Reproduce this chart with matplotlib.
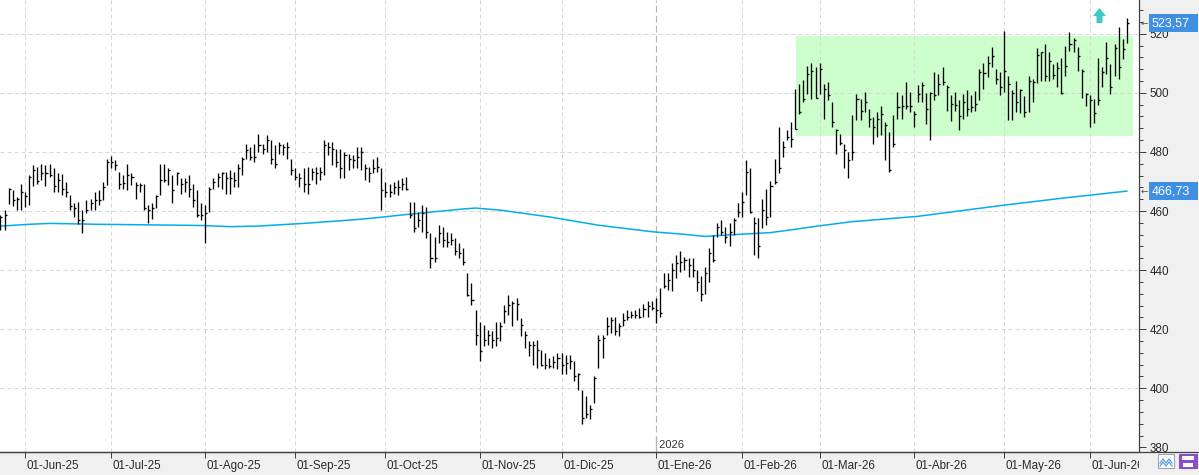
import matplotlib
matplotlib.use('Agg')
import matplotlib.pyplot as plt
import matplotlib.transforms as mtransforms
from matplotlib.patches import Rectangle
from matplotlib.path import Path
from matplotlib.lines import Line2D
from matplotlib.ticker import MultipleLocator

plt.rcParams['font.family'] = ['Liberation Sans', 'DejaVu Sans']

# ---------------- data ----------------
high = [
458.8, 460.3, 467.8, 467.0, 464.8, 469.3, 466.5, 472.1, 475.5, 474.9,
475.8, 475.5, 475.8, 474.4, 472.7, 472.4, 469.9, 465.4, 462.6, 463.1,
460.3, 463.7, 464.2, 466.5, 467.0, 469.9, 477.7, 478.5, 477.2, 473.2,
472.1, 476.0, 472.7, 469.9, 469.5, 469.3, 462.0, 462.6, 465.4, 476.0,
476.0, 474.4, 472.1, 473.2, 471.0, 471.3, 472.1, 469.3, 467.0, 462.6,
462.0, 468.2, 471.0, 472.7, 473.2, 473.2, 473.8, 473.2, 476.0, 478.3,
482.8, 481.7, 482.8, 486.2, 482.8, 485.6, 483.9, 482.2, 483.4, 482.8,
483.4, 477.7, 474.4, 472.7, 474.4, 474.9, 474.4, 474.9, 474.9, 483.9,
483.4, 483.4, 481.1, 481.1, 480.0, 479.4, 478.9, 481.7, 481.7, 476.0,
474.9, 477.7, 478.3, 474.4, 469.9, 469.3, 469.9, 470.4, 471.0, 471.6,
463.1, 463.1, 459.8, 462.0, 461.4, 452.4, 451.3, 455.2, 454.7, 453.0,
452.4, 450.8, 449.1, 447.4, 438.9, 435.6, 426.6, 422.6, 421.5, 419.8,
419.5, 422.6, 422.6, 428.3, 431.6, 429.4, 430.5, 423.8, 419.3, 415.9,
415.9, 416.5, 412.8, 412.0, 410.3, 411.0, 412.0, 412.0, 411.4, 411.4,
409.2, 405.2, 399.6, 397.4, 394.5, 404.1, 418.2, 418.2, 424.3, 424.3,
424.3, 422.1, 425.5, 426.6, 426.0, 426.6, 427.1, 428.5, 429.4, 429.4,
430.5, 433.9, 438.9, 438.9, 442.3, 445.1, 446.3, 444.6, 444.0, 444.2,
440.0, 438.0, 441.0, 447.4, 451.9, 455.8, 456.9, 454.7, 455.8, 457.5,
462.6, 466.5, 477.2, 474.4, 458.1, 457.5, 464.0, 467.6, 470.0, 477.5,
488.4, 483.6, 487.3, 490.1, 501.3, 503.0, 504.2, 509.2, 510.1, 508.6,
510.1, 503.0, 503.6, 496.8, 487.9, 486.2, 482.8, 480.0, 492.4, 499.7,
498.0, 500.2, 494.6, 491.8, 493.5, 495.7, 490.1, 486.7, 492.4, 500.2,
499.1, 503.6, 500.2, 494.0, 502.5, 503.6, 500.0, 500.4, 506.9, 506.4,
508.6, 502.5, 499.3, 500.4, 497.7, 499.5, 501.1, 499.1, 500.7, 508.1,
510.1, 512.6, 515.4, 508.1, 507.2, 521.0, 505.8, 500.8, 504.1, 501.3,
498.9, 505.8, 504.5, 515.1, 513.9, 516.5, 513.9, 509.8, 510.5, 511.7,
515.9, 520.7, 518.4, 515.4, 507.9, 500.0, 499.3, 498.0, 511.7, 508.6,
517.3, 509.8, 516.5, 522.1, 518.2, 525.2]

low = [
453.5, 453.5, 462.5, 461.7, 460.5, 460.5, 461.4, 462.0, 468.4, 469.0,
470.4, 468.4, 471.5, 466.5, 466.5, 465.4, 464.8, 460.3, 458.0, 455.6,
452.6, 459.2, 460.3, 460.5, 462.0, 463.7, 468.7, 474.4, 473.8, 467.6,
467.6, 467.0, 468.7, 464.2, 466.5, 460.3, 455.8, 457.2, 460.9, 465.4,
469.9, 468.7, 462.6, 468.7, 465.9, 466.5, 464.8, 461.4, 458.0, 457.0,
449.1, 459.7, 467.3, 468.2, 467.6, 465.9, 465.9, 468.2, 468.2, 472.1,
477.7, 477.2, 476.6, 480.0, 479.4, 480.0, 476.0, 474.4, 479.4, 478.9,
477.7, 472.1, 470.4, 468.2, 466.5, 465.9, 470.4, 469.3, 470.4, 472.1,
478.9, 475.5, 474.9, 471.0, 471.0, 473.8, 474.4, 474.4, 473.8, 470.4,
469.9, 472.7, 473.2, 460.3, 464.8, 464.8, 465.9, 465.4, 467.1, 467.1,
457.5, 453.0, 454.7, 453.0, 450.8, 440.6, 442.9, 449.1, 447.9, 447.9,
448.5, 445.1, 444.0, 441.8, 431.1, 428.3, 414.8, 409.2, 414.2, 414.8,
413.7, 414.2, 415.9, 422.1, 424.9, 421.0, 423.2, 417.6, 413.7, 410.8,
408.0, 406.9, 407.5, 406.4, 406.9, 406.9, 406.4, 404.7, 404.7, 406.4,
402.4, 399.6, 387.8, 390.1, 389.5, 395.1, 406.9, 410.3, 418.2, 418.7,
418.2, 417.6, 421.0, 423.2, 423.8, 423.8, 423.8, 424.0, 424.3, 426.6,
422.1, 424.3, 433.9, 433.3, 432.8, 437.3, 439.5, 440.1, 437.8, 437.5,
433.0, 429.5, 432.0, 436.0, 442.9, 451.3, 451.9, 449.1, 448.0, 451.9,
458.1, 458.1, 465.4, 459.2, 445.1, 444.0, 454.1, 455.2, 458.0, 469.3,
472.7, 478.3, 483.9, 481.7, 487.9, 492.9, 496.8, 499.7, 498.0, 498.2,
499.7, 491.2, 497.4, 488.4, 479.4, 482.2, 474.4, 471.0, 477.2, 490.7,
490.7, 493.5, 488.4, 482.8, 485.0, 485.6, 477.2, 473.2, 481.7, 491.2,
491.2, 494.6, 493.5, 488.4, 496.8, 496.8, 489.5, 483.9, 497.4, 499.1,
502.5, 494.0, 490.3, 494.0, 487.3, 491.0, 492.3, 493.5, 494.0, 497.7,
501.3, 505.3, 508.6, 503.0, 499.3, 500.2, 490.7, 490.7, 493.5, 493.3,
491.8, 493.5, 496.8, 503.4, 504.1, 504.1, 504.1, 504.7, 502.0, 499.7,
505.6, 514.3, 513.7, 507.5, 498.2, 495.7, 488.4, 489.9, 495.9, 501.9,
506.4, 499.7, 505.8, 504.7, 511.5, 516.9]

close = [
458.0, 458.6, 467.6, 463.7, 463.9, 466.5, 465.0, 471.5, 473.8, 470.1,
472.7, 472.7, 472.1, 468.4, 470.4, 467.3, 466.5, 461.7, 460.9, 456.9,
456.9, 460.3, 462.8, 463.7, 463.7, 468.2, 476.6, 476.6, 475.5, 469.3,
469.5, 472.1, 471.5, 468.7, 468.7, 460.9, 460.3, 460.9, 465.0, 470.4,
470.4, 473.8, 467.0, 472.7, 469.3, 469.9, 467.6, 463.7, 458.6, 458.6,
459.2, 467.6, 469.9, 471.5, 472.7, 471.0, 471.0, 470.4, 474.4, 477.7,
480.5, 478.3, 478.3, 482.2, 481.1, 483.9, 477.7, 476.0, 482.2, 481.7,
481.7, 473.8, 471.6, 471.0, 469.3, 469.3, 473.2, 472.7, 473.2, 482.2,
481.7, 481.1, 476.6, 474.4, 478.9, 477.7, 477.2, 478.3, 480.0, 474.4,
472.7, 474.4, 474.9, 467.1, 466.5, 466.5, 468.2, 468.2, 469.3, 467.6,
458.6, 454.1, 456.9, 459.2, 453.0, 444.0, 444.0, 452.4, 450.2, 449.6,
450.2, 446.3, 445.7, 442.9, 431.6, 430.0, 418.2, 412.5, 416.5, 418.2,
416.5, 417.0, 421.0, 426.0, 428.3, 428.8, 428.5, 421.5, 418.2, 414.8,
414.8, 413.1, 408.0, 408.0, 407.5, 409.0, 410.3, 408.0, 408.6, 409.2,
404.1, 404.7, 390.1, 391.2, 392.9, 403.5, 416.5, 417.0, 421.0, 423.2,
419.3, 421.0, 423.2, 424.3, 424.9, 424.9, 424.3, 427.0, 427.7, 427.1,
426.6, 425.5, 434.5, 436.7, 440.1, 442.3, 442.9, 443.4, 441.8, 440.0,
436.0, 432.0, 439.0, 445.7, 443.5, 454.7, 453.0, 451.3, 453.0, 456.9,
459.8, 463.1, 473.2, 459.8, 455.8, 448.0, 460.3, 458.1, 468.5, 469.9,
474.4, 481.7, 485.0, 484.5, 487.9, 493.5, 497.9, 506.4, 507.5, 498.2,
508.1, 501.3, 499.1, 490.1, 487.3, 483.1, 480.5, 477.2, 480.0, 498.0,
494.0, 496.8, 491.2, 488.4, 491.0, 492.9, 489.0, 473.8, 482.8, 495.1,
495.7, 495.7, 495.7, 492.9, 499.7, 502.5, 494.6, 500.0, 499.1, 503.0,
503.6, 501.9, 496.1, 495.9, 492.0, 497.0, 494.6, 495.2, 496.1, 507.0,
506.7, 510.1, 512.6, 504.5, 501.9, 507.5, 503.0, 500.0, 496.8, 500.8,
493.5, 504.1, 503.6, 512.8, 513.7, 505.8, 510.6, 506.1, 508.5, 500.0,
509.0, 516.5, 518.0, 512.6, 507.5, 499.7, 497.4, 493.2, 497.7, 507.2,
511.7, 501.9, 515.1, 508.6, 514.8, 523.57]

# moving average read at sample bars
ma_idx = [0, 7, 12, 24, 37, 49, 56, 63, 69, 74, 80, 87, 93, 99, 105, 113, 116,
          122, 134, 146, 159, 167, 172, 179, 188, 194, 200, 208, 216, 224, 244, 259, 275]
ma_val = [454.9, 455.5, 455.8, 455.5, 455.3, 455.1, 454.7, 454.9, 455.4, 455.8,
          456.4, 457.1, 457.9, 458.8, 459.6, 460.7, 461.0, 460.3, 458.0, 455.2,
          453.0, 452.1, 451.4, 452.0, 452.7, 453.8, 455.0, 456.4, 457.3, 458.2,
          461.8, 464.3, 466.73]

month_labels = ['01-Jun-25', '01-Jul-25', '01-Ago-25', '01-Sep-25', '01-Oct-25',
                '01-Nov-25', '01-Dic-25', '01-Ene-26', '01-Feb-26', '01-Mar-26',
                '01-Abr-26', '01-May-26', '01-Jun-26']
month_bar = [6, 27, 50, 72, 94, 117, 137, 160, 181, 200, 223, 245, 266]
year_label = '2026'
year_bar = 160

y_major = [380, 400, 420, 440, 460, 480, 500, 520]
last_close = 523.57
last_ma = 466.73

# consolidation range box (bar index range, price range)
box_bars = (194.2, 276.4)
box_prices = (485.4, 519.1)
signal_bar, signal_price = 268.1, 526.2

# ---------------- figure ----------------
W, H = 1199, 475
fig = plt.figure(figsize=(W / 100, H / 100), dpi=100, facecolor='#f0f0f0')
ax_right_px = 1139
ax_bottom_px = 452.3
ax = fig.add_axes([0, (H - ax_bottom_px) / H, ax_right_px / W, ax_bottom_px / H])
ax.set_facecolor('white')

n = min(len(high), len(low), len(close))
xs = list(range(n))
ax.set_xlim(-0.1, 277.97)
ax.set_ylim(378.35, 531.4)

# grid
grid_kw = dict(color='#d6d6d6', lw=0.72, dashes=(4, 3), zorder=1)
for yv in y_major[1:]:
    ax.axhline(yv, **grid_kw)
for mb in month_bar:
    if mb != year_bar:
        ax.axvline(mb, **grid_kw)
ax.axvline(year_bar, color='#b4b4b4', lw=0.8, dashes=(6, 3), zorder=1)
ax.plot([year_bar, year_bar], [378.35, 384.0], color='#b4b4b4', lw=0.9, zorder=1,
        solid_capstyle='butt')
ax.text(year_bar, 380.9, ' ' + year_label, fontsize=8, color='#333333',
        ha='left', va='center', zorder=2)

# consolidation box
ax.add_patch(Rectangle((box_bars[0], box_prices[0]), box_bars[1] - box_bars[0],
                       box_prices[1] - box_prices[0], facecolor='#ccffcc',
                       edgecolor='none', zorder=0.5))

# moving average
ax.plot(ma_idx, ma_val, color='#00aeef', lw=1.1, zorder=2)

# bars
ax.vlines(xs, low[:n], high[:n], color='black', lw=0.95, zorder=3)
ax.hlines(close[:n], xs, [x + 0.5 for x in xs], color='black', lw=0.95, zorder=3)

# signal arrow
arrow = Path([(0, 1), (0.87, -0.07), (0.4, -0.07), (0.4, -1), (-0.4, -1),
              (-0.4, -0.07), (-0.87, -0.07), (0, 1)])
ax.plot([signal_bar], [signal_price], marker=arrow, markersize=10.8,
        color='#40c8c8', mec='none', clip_on=False, zorder=4)

# spines / axes
for s in ['left', 'top']:
    ax.spines[s].set_visible(False)
for s in ['right', 'bottom']:
    ax.spines[s].set_color('#404040')
    ax.spines[s].set_linewidth(0.9)

ax.yaxis.tick_right()
ax.set_yticks(y_major)
ax.set_yticklabels([str(v) for v in y_major])
ax.yaxis.set_minor_locator(MultipleLocator(4))
ax.tick_params(axis='y', which='major', length=5.0, width=0.72, color='#404040',
               labelsize=8.4, labelcolor='#2a2a2a', pad=2.8)
ax.tick_params(axis='y', which='minor', length=2.9, width=0.72, color='#404040')

ax.set_xticks(month_bar)
ax.set_xticklabels([''] * len(month_bar))
ax.tick_params(axis='x', which='major', length=4.3, width=0.72, color='#404040',
               direction='out')
xtrans = mtransforms.blended_transform_factory(ax.transData, ax.transAxes)
lab_trans = mtransforms.offset_copy(xtrans, fig=fig, x=1.5, y=-16.7, units='dots')
for mb, lab in zip(month_bar, month_labels):
    ax.text(mb, 0, lab, transform=lab_trans, ha='left', va='baseline',
            fontsize=8.4, color='#2a2a2a', clip_on=False)

# value tags on the right
ytrans = mtransforms.blended_transform_factory(ax.transAxes, ax.transData)
px_to_price = (531.4 - 378.35) / ax_bottom_px
for val in (last_close, last_ma):
    hgt = 18.5 * px_to_price
    ax.add_patch(Rectangle((1149 / ax_right_px, val - hgt / 2), 49 / ax_right_px, hgt,
                           transform=ytrans, facecolor='#3f8fe2', edgecolor='none',
                           clip_on=False, zorder=10))
    ax.text(1152 / ax_right_px, val, f'{val:.2f}'.replace('.', ','), transform=ytrans,
            ha='left', va='center', fontsize=9, color='white', clip_on=False, zorder=11)
    ax.text(1144 / ax_right_px, val, '\u2190', transform=ytrans, ha='center',
            va='center', fontsize=6.5, color='#555555', family='DejaVu Sans',
            clip_on=False, zorder=11)

# bottom-right corner panel with icons
fig.add_artist(Rectangle((ax_right_px / W, 0), (W - ax_right_px) / W,
                         (H - ax_bottom_px) / H, transform=fig.transFigure,
                         facecolor='#f0f0f0', edgecolor='none', zorder=5))
fig.add_artist(Line2D([0, 1], [(H - ax_bottom_px) / H] * 2, transform=fig.transFigure,
                      color='#404040', lw=0.9, zorder=6))
fig.add_artist(Rectangle((1157.7 / W, (H - 468.3) / H), 16.6 / W, 14 / H,
                         transform=fig.transFigure, facecolor='white',
                         edgecolor='#9aa6b8', lw=0.8, zorder=6))
fig.add_artist(Line2D([1160 / W, 1163 / W, 1166 / W, 1169 / W, 1172 / W],
                      [(H - 463) / H, (H - 459) / H, (H - 463) / H, (H - 459) / H,
                       (H - 463) / H], transform=fig.transFigure,
                      color='#5aa0d8', lw=0.9, zorder=7))
fig.add_artist(Line2D([1160 / W, 1163 / W, 1166 / W, 1169 / W, 1172 / W],
                      [(H - 466) / H, (H - 462) / H, (H - 466) / H, (H - 462) / H,
                       (H - 466) / H], transform=fig.transFigure,
                      color='#5aa0d8', lw=0.9, zorder=7))
fig.add_artist(Rectangle((1179 / W, (H - 468.3) / H), 17.7 / W, 14 / H,
                         transform=fig.transFigure, facecolor='#8a4fc8',
                         edgecolor='#8a4fc8', lw=0.8, zorder=6))
fig.add_artist(Rectangle((1182 / W, (H - 460) / H), 11.5 / W, 4.5 / H,
                         transform=fig.transFigure, facecolor='white',
                         edgecolor='none', zorder=7))
fig.add_artist(Rectangle((1183 / W, (H - 467) / H), 9.5 / W, 4.5 / H,
                         transform=fig.transFigure, facecolor='white',
                         edgecolor='none', zorder=7))

fig.savefig('out.png', dpi=100, facecolor=fig.get_facecolor())
